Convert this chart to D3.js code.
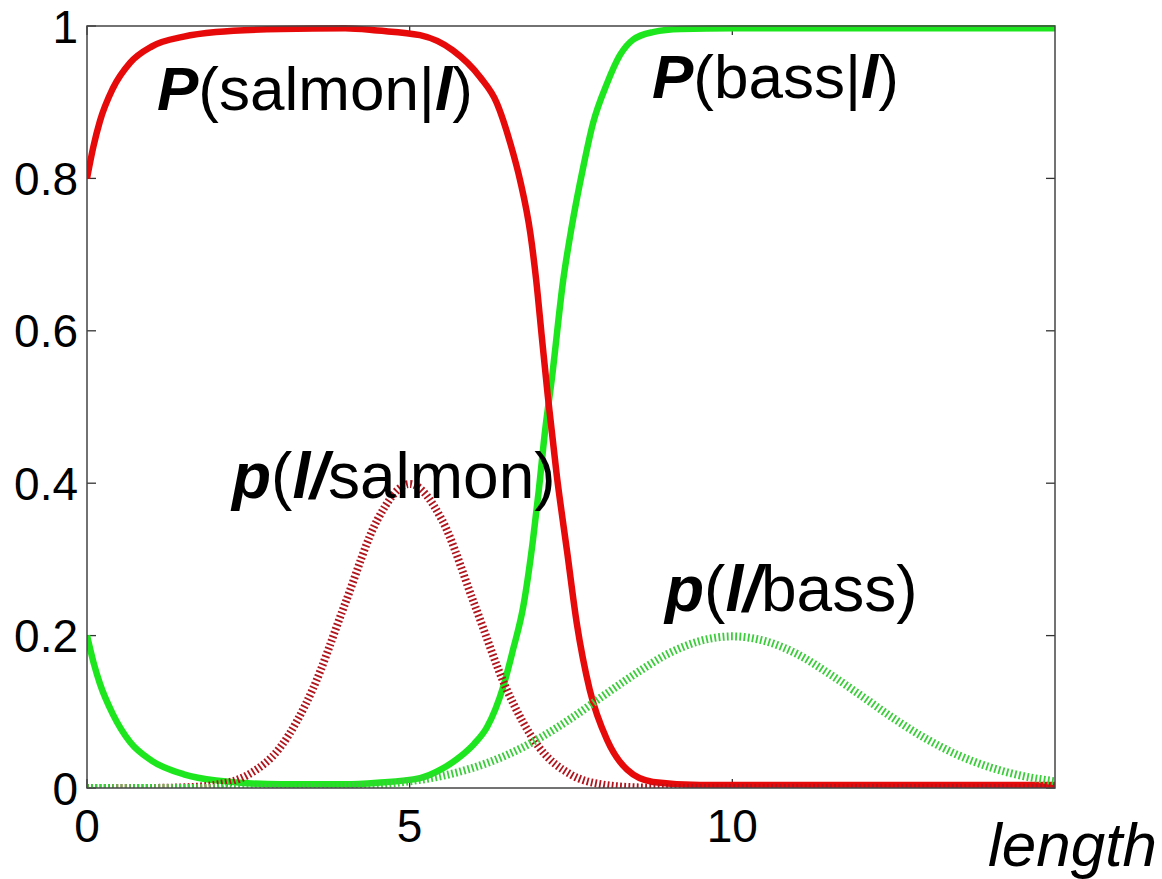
<!DOCTYPE html>
<html>
<head>
<meta charset="utf-8">
<script src="https://cdn.jsdelivr.net/npm/d3@7/dist/d3.min.js"></script>
<style>
  html, body { margin: 0; padding: 0; background: #fff; }
  svg { display: block; }
  text { font-family: "Liberation Sans", Arial, Helvetica, sans-serif; fill: #000; }
</style>
</head>
<body>
<svg id="chart" width="1162" height="879"></svg>
<script>
// ---- data ----
const xTicks = [0, 5, 10];
const yTicks = [0, 0.2, 0.4, 0.6, 0.8, 1];
const yTickLabels = ["0", "0.2", "0.4", "0.6", "0.8", "1"];

// P(salmon|l) - solid red
const postSalmonX = [0, 0.1, 0.2, 0.4, 0.67, 1.0, 1.5, 2.0, 3.0, 4.0, 4.5, 5.16, 5.67, 6.09, 6.35, 6.56, 6.71, 6.87, 6.96, 7.05, 7.14, 7.28, 7.44, 7.59, 7.79, 8.06, 8.37, 8.77, 9.5, 12, 15];
const postSalmonY = [0.80, 0.842, 0.875, 0.918, 0.952, 0.973, 0.986, 0.992, 0.996, 0.997, 0.994, 0.988, 0.968, 0.933, 0.899, 0.846, 0.798, 0.728, 0.667, 0.59, 0.515, 0.41, 0.31, 0.216, 0.129, 0.063, 0.024, 0.008, 0.004, 0.004, 0.004];

// P(bass|l) - solid green
const postBassX = [0, 0.1, 0.2, 0.4, 0.67, 1.0, 1.5, 2.0, 3.0, 4.0, 4.5, 5.16, 5.5, 5.78, 6.0, 6.2, 6.45, 6.6, 6.76, 6.91, 7.0, 7.1, 7.2, 7.38, 7.51, 7.69, 7.84, 8.06, 8.26, 8.46, 8.77, 9.2, 10, 15];
const postBassY = [0.20, 0.165, 0.137, 0.097, 0.06, 0.036, 0.018, 0.01, 0.005, 0.005, 0.007, 0.013, 0.025, 0.041, 0.058, 0.08, 0.133, 0.181, 0.238, 0.325, 0.39, 0.47, 0.535, 0.667, 0.736, 0.815, 0.872, 0.925, 0.962, 0.982, 0.992, 0.996, 0.997, 0.997];

// p(l|salmon) - dotted dark red
const likeSalmonX = [0, 0.5, 1, 1.5, 2, 2.5, 3, 3.5, 4, 4.5, 5, 5.5, 6, 6.5, 7, 7.5, 8, 8.5, 9, 9.5, 10, 11, 12, 13, 14, 15];
const likeSalmonY = [0, 0, 0.0001, 0.0009, 0.0044, 0.0175, 0.054, 0.13, 0.242, 0.352, 0.399, 0.352, 0.242, 0.13, 0.054, 0.0175, 0.0044, 0.0009, 0.0001, 0, 0, 0, 0, 0, 0, 0];

// p(l|bass) - dotted green
const likeBassX = [0, 1, 2, 3, 3.5, 4, 4.5, 5, 5.5, 6, 6.5, 7, 7.5, 8, 8.5, 9, 9.5, 10, 10.5, 11, 11.5, 12, 12.5, 13, 13.5, 14, 14.5, 15];
const likeBassY = [0, 0, 0.0001, 0.0004, 0.001, 0.0022, 0.0045, 0.0088, 0.0158, 0.027, 0.0431, 0.0648, 0.0913, 0.121, 0.150, 0.176, 0.193, 0.199, 0.193, 0.176, 0.150, 0.121, 0.0913, 0.0648, 0.0431, 0.027, 0.0158, 0.0088];

// ---- drawing ----
const svg = d3.select("#chart");
const plot = { left: 87, right: 1055, top: 26, bottom: 788 };
const x = d3.scaleLinear().domain([0, 15]).range([plot.left, plot.right]);
const y = d3.scaleLinear().domain([0, 1]).range([plot.bottom, plot.top]);

const zip = (xs, ys) => xs.map((v, i) => [v, ys[i]]);
const line = d3.line().x(d => x(d[0])).y(d => y(d[1])).curve(d3.curveMonotoneX);

svg.append("defs").append("clipPath").attr("id", "clip")
  .append("rect").attr("x", plot.left).attr("y", plot.top - 4)
  .attr("width", plot.right - plot.left).attr("height", plot.bottom - plot.top + 4);

// ticks (inside, on both sides)
const tickG = svg.append("g").attr("stroke", "#333").attr("stroke-width", 1.3);
yTicks.forEach(t => {
  tickG.append("line").attr("x1", plot.left).attr("x2", plot.left + 9).attr("y1", y(t)).attr("y2", y(t));
  tickG.append("line").attr("x1", plot.right).attr("x2", plot.right - 9).attr("y1", y(t)).attr("y2", y(t));
});
xTicks.forEach(t => {
  tickG.append("line").attr("x1", x(t)).attr("x2", x(t)).attr("y1", plot.bottom).attr("y2", plot.bottom - 9);
  tickG.append("line").attr("x1", x(t)).attr("x2", x(t)).attr("y1", plot.top).attr("y2", plot.top + 9);
});

const curves = svg.append("g").attr("clip-path", "url(#clip)");
curves.append("path").datum(zip(postBassX, postBassY)).attr("d", line)
  .attr("fill", "none").attr("stroke", "#1ee61e").attr("stroke-width", 6.5).attr("stroke-linejoin", "round");
curves.append("path").datum(zip(postSalmonX, postSalmonY)).attr("d", line)
  .attr("fill", "none").attr("stroke", "#e60a0a").attr("stroke-width", 6.5).attr("stroke-linejoin", "round");
curves.append("path").datum(zip(likeSalmonX, likeSalmonY)).attr("d", line)
  .attr("fill", "none").attr("stroke", "#b0141c").attr("stroke-width", 8).attr("stroke-dasharray", "1.8 2.4");
curves.append("path").datum(zip(likeBassX, likeBassY)).attr("d", line)
  .attr("fill", "none").attr("stroke", "#3ccc3c").attr("stroke-width", 8).attr("stroke-dasharray", "1.8 2.4");

// box
svg.append("rect").attr("x", plot.left).attr("y", plot.top)
  .attr("width", plot.right - plot.left).attr("height", plot.bottom - plot.top)
  .attr("fill", "none").attr("stroke", "#444").attr("stroke-width", 1.5);

// tick labels
svg.append("g").selectAll("text").data(yTicks).join("text")
  .attr("x", plot.left - 9).attr("y", d => y(d)).attr("dy", "0.36em")
  .attr("text-anchor", "end").attr("font-size", 46)
  .text((d, i) => yTickLabels[i]);
svg.append("g").selectAll("text").data(xTicks).join("text")
  .attr("x", d => x(d)).attr("y", 842)
  .attr("text-anchor", "middle").attr("font-size", 46)
  .text(d => d3.format("d")(d));

// annotations
function label(px, py, size, parts) {
  const t = svg.append("text").attr("x", px).attr("y", py).attr("font-size", size);
  parts.forEach(p => {
    const s = t.append("tspan").text(p[0]);
    if (p[1]) s.attr("font-weight", "bold").attr("font-style", "italic");
  });
}
label(157, 110, 62, [["P", 1], ["(salmon|"], ["l", 1], [")"]]);
label(652, 98, 62, [["P", 1], ["(bass|"], ["l", 1], [")"]]);
label(232, 498, 64, [["p", 1], ["("], ["l/", 1], ["salmon)"]]);
label(665, 611, 64, [["p", 1], ["("], ["l/", 1], ["bass)"]]);

svg.append("text").attr("x", 988).attr("y", 866).attr("font-size", 62)
  .attr("font-style", "italic").text("length");
</script>
</body>
</html>
